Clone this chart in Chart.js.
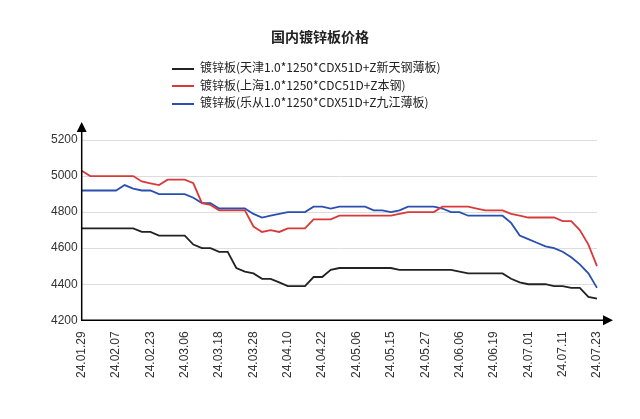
<!DOCTYPE html>
<html><head><meta charset="utf-8">
<script src="https://cdn.jsdelivr.net/npm/chart.js@4"></script>
<style>
body{margin:0;background:#fff;font-family:"Noto Sans CJK SC","DejaVu Sans",sans-serif}
#wrap{position:relative;width:640px;height:419px}
#title{position:absolute;top:26px;width:100%;text-align:center;font-size:14px;font-weight:bold;color:#222}
#legend{position:absolute;left:172px;top:58px;font-size:12px;color:#222;line-height:17.5px}
#legend span{display:inline-block;width:22px;height:2px;vertical-align:middle;margin-right:6px}
canvas{position:absolute;left:0;top:0}
</style></head><body>
<div id="wrap">
<canvas id="c" width="640" height="419"></canvas>
<div id="title">国内镀锌板价格</div>
<div id="legend"></div>
</div>
<script>
var tickLabels = ['24.01.29','24.02.07','24.02.23','24.03.06','24.03.18','24.03.28','24.04.10','24.04.22','24.05.06','24.05.15','24.05.27','24.06.06','24.06.19','24.07.01','24.07.11','24.07.23'];
var seriesNames = ['镀锌板(天津1.0*1250*CDX51D+Z新天钢薄板)','镀锌板(上海1.0*1250*CDC51D+Z本钢)','镀锌板(乐从1.0*1250*CDX51D+Z九江薄板)'];
var tianjin = [4710,4710,4710,4710,4710,4710,4710,4690,4690,4670,4670,4670,4670,4620,4600,4600,4580,4580,4490,4470,4460,4430,4430,4410,4390,4390,4390,4440,4440,4480,4490,4490,4490,4490,4490,4490,4490,4480,4480,4480,4480,4480,4480,4480,4470,4460,4460,4460,4460,4460,4430,4410,4400,4400,4400,4390,4390,4380,4380,4330,4320];
var shanghai = [5030,5000,5000,5000,5000,5000,5000,4970,4960,4950,4980,4980,4980,4960,4850,4840,4810,4810,4810,4810,4720,4690,4700,4690,4710,4710,4710,4760,4760,4760,4780,4780,4780,4780,4780,4780,4780,4790,4800,4800,4800,4800,4830,4830,4830,4830,4820,4810,4810,4810,4790,4780,4770,4770,4770,4770,4750,4750,4700,4620,4500];
var lecong = [4920,4920,4920,4920,4920,4950,4930,4920,4920,4900,4900,4900,4900,4880,4850,4850,4820,4820,4820,4820,4790,4770,4780,4790,4800,4800,4800,4830,4830,4820,4830,4830,4830,4830,4810,4810,4800,4810,4830,4830,4830,4830,4820,4800,4800,4780,4780,4780,4780,4780,4740,4670,4650,4630,4610,4600,4580,4550,4510,4460,4380];
var colors = ['#222222','#d83a3a','#2a4fb0'];

var labels = [];
for (var i = 0; i < tianjin.length; i++) labels.push(i % 4 === 0 ? tickLabels[i / 4] : '');

document.getElementById('legend').innerHTML = seriesNames.map(function (n, k) {
    return '<div><span style="background:' + colors[k] + '"></span>' + n + '</div>';
}).join('');

// arrows on axes
var arrows = {
    id: 'arrows',
    afterDraw: function (chart) {
        var ctx = chart.ctx, a = chart.chartArea;
        ctx.save();
        ctx.strokeStyle = '#000'; ctx.fillStyle = '#000'; ctx.lineWidth = 1.5;
        ctx.beginPath(); ctx.moveTo(a.left, a.bottom); ctx.lineTo(a.left, a.top - 14); ctx.stroke();
        ctx.beginPath(); ctx.moveTo(a.left - 5, a.top - 8); ctx.lineTo(a.left + 5, a.top - 8); ctx.lineTo(a.left, a.top - 18); ctx.fill();
        ctx.beginPath(); ctx.moveTo(a.left, a.bottom); ctx.lineTo(a.right + 8, a.bottom); ctx.stroke();
        ctx.beginPath(); ctx.moveTo(a.right + 6, a.bottom - 5); ctx.lineTo(a.right + 6, a.bottom + 5); ctx.lineTo(a.right + 16, a.bottom); ctx.fill();
        ctx.restore();
    }
};

new Chart(document.getElementById('c'), {
    type: 'line',
    data: {
        labels: labels,
        datasets: [tianjin, shanghai, lecong].map(function (d, k) {
            return { label: seriesNames[k], data: d, borderColor: colors[k], borderWidth: 1.8, pointRadius: 0, tension: 0, fill: false };
        })
    },
    options: {
        responsive: false,
        animation: false,
        layout: { padding: { top: 140, right: 43, left: 47, bottom: 38 } },
        plugins: { legend: { display: false }, tooltip: { enabled: false } },
        scales: {
            x: {
                grid: { display: false },
                border: { color: '#000' },
                ticks: { autoSkip: false, maxRotation: 90, minRotation: 90, color: '#333', font: { size: 12 } }
            },
            y: {
                min: 4200, max: 5200,
                grid: { color: '#dddddd', drawTicks: false },
                border: { color: '#000' },
                ticks: { stepSize: 200, color: '#333', font: { size: 12 }, padding: 4, callback: function (v) { return String(v); } }
            }
        }
    },
    plugins: [arrows]
});
</script>
</body></html>
